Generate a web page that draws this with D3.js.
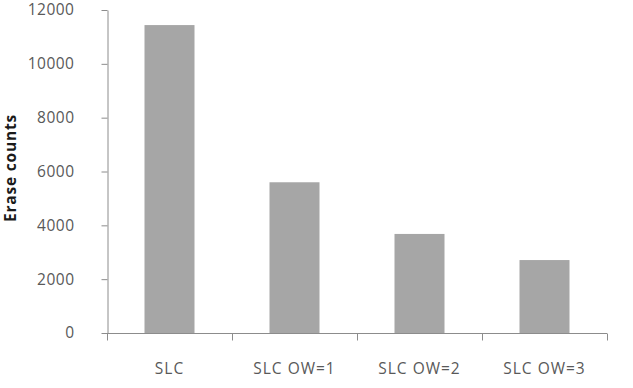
<!DOCTYPE html>
<html>
<head>
<meta charset="utf-8">
<script src="https://cdn.jsdelivr.net/npm/d3@7"></script>
<style>
  body { margin: 0; background: #fff; }
  text { font-family: "Open Sans", "Noto Sans", sans-serif; }
</style>
</head>
<body>
<svg id="chart"></svg>
<script>
// categorias y valores
const categories = ["SLC", "SLC OW=1", "SLC OW=2", "SLC OW=3"];
const eraseCounts = [11440, 5600, 3680, 2710];
const yTicks = [0, 2000, 4000, 6000, 8000, 10000, 12000];

const width = 633;
const height = 388;
const margin = { top: 10, right: 26, bottom: 55, left: 107 };

const svg = d3.select("#chart")
  .attr("width", width)
  .attr("height", height);

const x = d3.scaleBand()
  .domain(categories)
  .range([margin.left, width - margin.right])
  .paddingInner(0.6)
  .paddingOuter(0.3);

const y = d3.scaleLinear()
  .domain([0, 12000])
  .range([height - margin.bottom, margin.top]);

// barras
svg.selectAll(".bar")
  .data(categories)
  .enter()
  .append("rect")
  .attr("class", "bar")
  .attr("x", d => x(d))
  .attr("y", (d, i) => y(eraseCounts[i]))
  .attr("width", x.bandwidth())
  .attr("height", (d, i) => y(0) - y(eraseCounts[i]))
  .attr("fill", "#a6a6a6");

// eje Y
const yAxis = svg.append("g")
  .attr("transform", `translate(${margin.left + 0.5},0)`)
  .call(d3.axisLeft(y).tickValues(yTicks).tickFormat(d3.format("d"))
    .tickSize(6).tickSizeOuter(0).tickPadding(27));
yAxis.select(".domain").attr("stroke", "#8c8c8c");
yAxis.selectAll(".tick line").attr("stroke", "#8c8c8c");
yAxis.selectAll(".tick text")
  .attr("fill", "#595959")
  .style("font-size", "15.5px")
  .style("letter-spacing", "0.5px");

// eje X: ticks en los limites de cada categoria
const xAxis = svg.append("g")
  .attr("transform", `translate(0,${y(0) + 0.5})`);
xAxis.append("line")
  .attr("x1", x.range()[0]).attr("x2", x.range()[1])
  .attr("stroke", "#8c8c8c");
const bounds = categories.map(d => x(d) - x.step() * x.paddingOuter())
  .concat([x.range()[1]]);
xAxis.selectAll(".xtick")
  .data(bounds)
  .enter()
  .append("line")
  .attr("x1", d => Math.round(d) + 0.5).attr("x2", d => Math.round(d) + 0.5)
  .attr("y1", 0).attr("y2", 7)
  .attr("stroke", "#8c8c8c");
xAxis.selectAll(".xlabel")
  .data(categories)
  .enter()
  .append("text")
  .attr("x", d => x(d) + x.bandwidth() / 2)
  .attr("y", 40)
  .attr("text-anchor", "middle")
  .attr("fill", "#595959")
  .style("font-size", "15.5px")
  .style("letter-spacing", "1px")
  .text(d => d);

// titulo del eje Y
svg.append("text")
  .attr("transform", `translate(16,168) rotate(-90)`)
  .attr("text-anchor", "middle")
  .style("font-size", "15.5px")
  .style("font-weight", "bold")
  .style("letter-spacing", "0.8px")
  .attr("fill", "#1a1a1a")
  .text("Erase counts");
</script>
</body>
</html>
